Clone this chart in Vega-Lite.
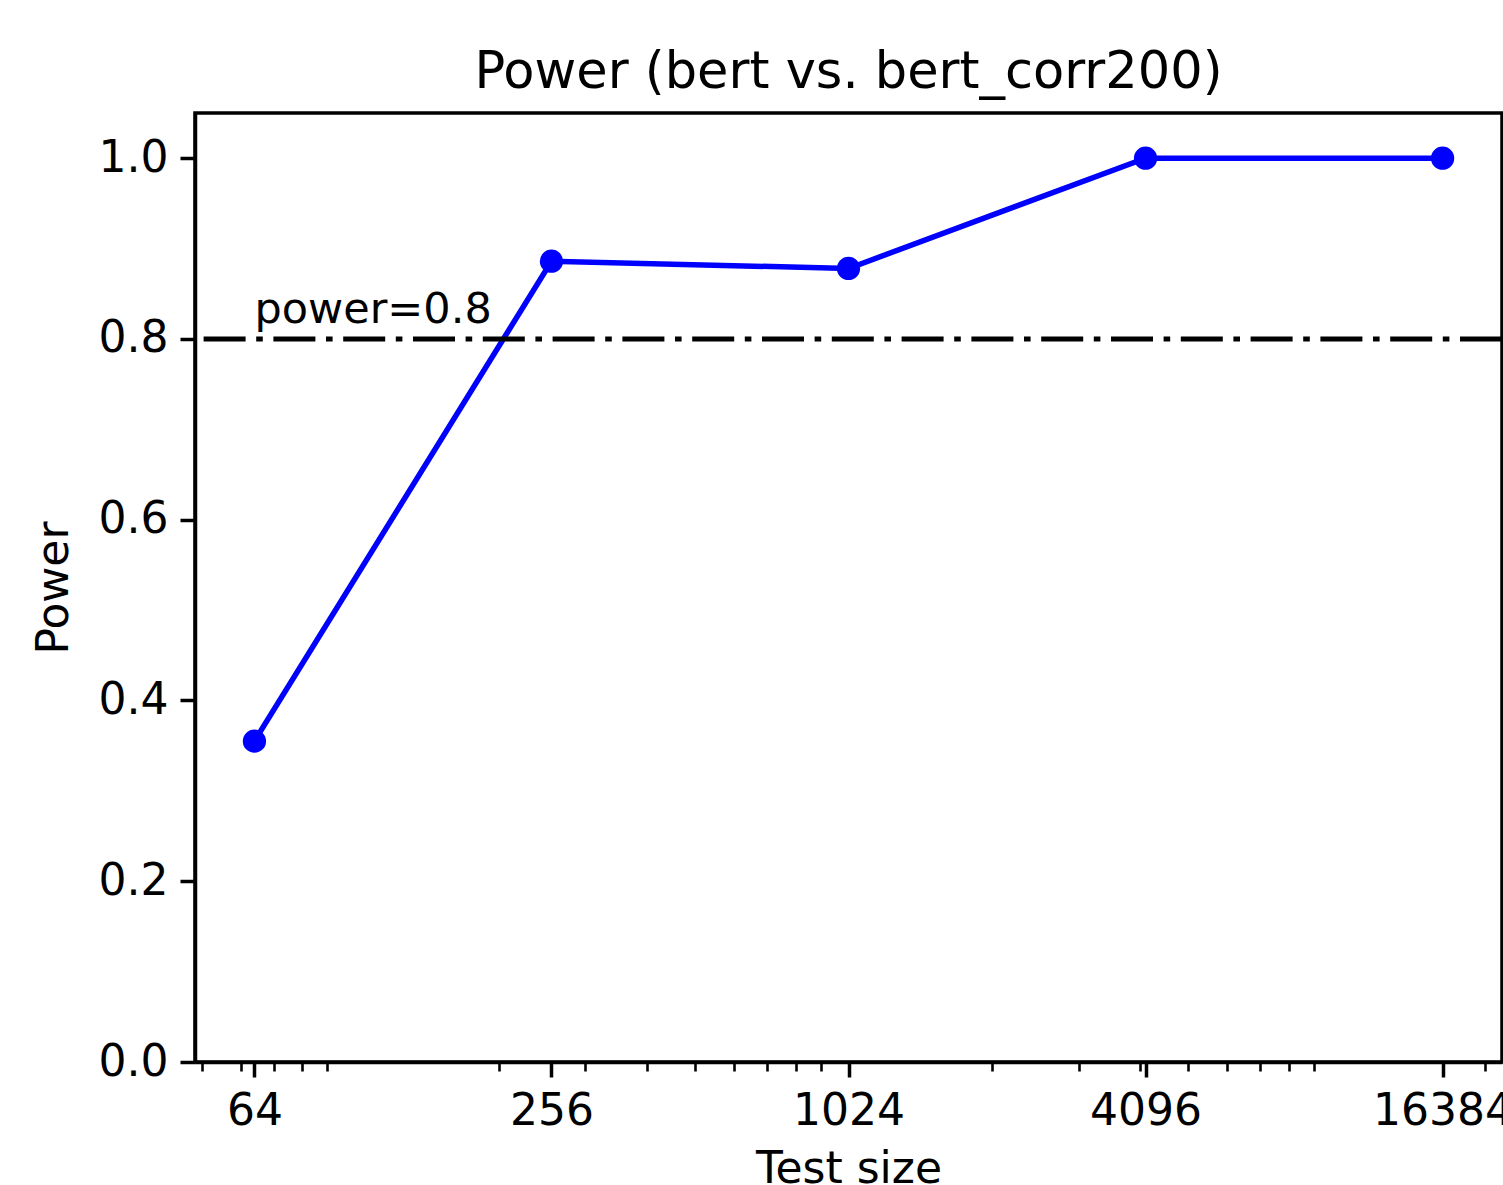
{
  "$schema": "https://vega.github.io/schema/vega-lite/v6.json",
  "autosize": {"type": "none"},
  "padding": {"left": 195, "top": 113, "right": 1, "bottom": 123},
  "width": 1307,
  "height": 949,
  "background": "white",
  "title": {
    "text": "Power (bert vs. bert_corr200)",
    "font": "DejaVu Sans",
    "fontSize": 51,
    "fontWeight": "normal",
    "color": "black",
    "anchor": "middle",
    "baseline": "alphabetic",
    "offset": -26
  },
  "config": {
    "view": {"stroke": "black", "strokeWidth": 3.5},
    "axis": {
      "labelFont": "DejaVu Sans",
      "titleFont": "DejaVu Sans",
      "labelFontSize": 44,
      "titleFontSize": 44,
      "titleFontWeight": "normal",
      "labelColor": "black",
      "titleColor": "black",
      "domainColor": "black",
      "domainWidth": 3.5,
      "tickColor": "black",
      "grid": false
    }
  },
  "layer": [
    {
      "data": {"values": [
        {"size": 64, "power": 0.355},
        {"size": 256, "power": 0.886},
        {"size": 1024, "power": 0.878},
        {"size": 4096, "power": 1.0},
        {"size": 16384, "power": 1.0}
      ]},
      "mark": {"type": "line", "color": "#0000ff", "strokeWidth": 5.5,
               "point": {"filled": true, "size": 540, "color": "#0000ff", "opacity": 1}},
      "encoding": {
        "x": {
          "field": "size", "type": "quantitative",
          "scale": {"type": "log", "domain": [48.5, 21619], "nice": false},
          "axis": {
            "title": "Test size",
            "values": [50,60,64,70,80,90,200,256,300,400,500,600,700,800,900,1024,2000,3000,4000,4096,5000,6000,7000,8000,9000,16384,20000],
            "labelExpr": "indexof([64,256,1024,4096,16384], datum.value) >= 0 ? '' + datum.value : ''",
            "labelOverlap": false,
            "labelFlush": false,
            "labelBound": false,
            "labelPadding": 12,
            "tickSize": {"condition": {"test": "indexof([64,256,1024,4096,16384], datum.value) >= 0", "value": 15}, "value": 9},
            "tickWidth": {"condition": {"test": "indexof([64,256,1024,4096,16384], datum.value) >= 0", "value": 3.5}, "value": 2.6},
            "titlePadding": 14
          }
        },
        "y": {
          "field": "power", "type": "quantitative",
          "scale": {"domain": [0, 1.05], "nice": false},
          "axis": {
            "title": "Power",
            "values": [0, 0.2, 0.4, 0.6, 0.8, 1.0],
            "format": ".1f",
            "tickSize": 15,
            "tickWidth": 3.5,
            "labelPadding": 12,
            "titlePadding": 22
          }
        }
      }
    },
    {
      "data": {"values": [{"threshold": 0.8}]},
      "mark": {"type": "rule", "color": "black", "strokeWidth": 5, "strokeDash": [42, 10.6, 6.6, 10.6]},
      "encoding": {"y": {"field": "threshold", "type": "quantitative"}}
    },
    {
      "data": {"values": [{"size": 64, "power": 0.818, "label": "power=0.8"}]},
      "mark": {"type": "text", "align": "left", "baseline": "alphabetic", "font": "DejaVu Sans", "fontSize": 43, "color": "black"},
      "encoding": {
        "x": {"field": "size", "type": "quantitative"},
        "y": {"field": "power", "type": "quantitative"},
        "text": {"field": "label"}
      }
    }
  ]
}
